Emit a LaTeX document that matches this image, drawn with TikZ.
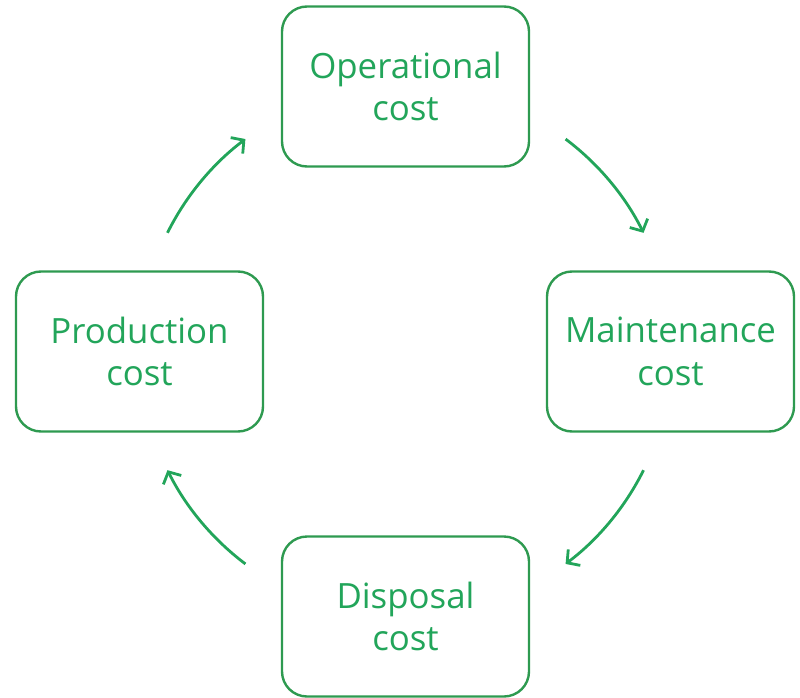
\documentclass[tikz,border=0pt]{standalone}
\usepackage{fontspec}
\setmainfont{Open Sans}
\usetikzlibrary{arrows.meta}
\definecolor{boxgreen}{HTML}{2E9A50}
\definecolor{txtgreen}{HTML}{22A55A}
\tikzset{
  costbox/.style={draw=boxgreen, line width=2.4pt, rounded corners=25pt,
    minimum width=247pt, minimum height=160pt, align=center,
    text=txtgreen, font=\fontsize{34.8}{42.5}\selectfont, fill=white},
  cyc/.style={draw=txtgreen, line width=2.8pt,
    -{Straight Barb[length=9pt,width=20pt,line width=2.8pt]}}
}
\begin{document}
\begin{tikzpicture}[x=1pt,y=1pt]
\useasboundingbox (0,0) rectangle (800,-698);
\coordinate (c) at (405.5,-351.5);
\node[costbox] (op) at (405.5,-86.5) {Operational\\cost};
\node[costbox] (pr) at (139.5,-351.5) {Production\\cost};
\node[costbox] (ma) at (670.5,-351.5) {Maintenance\\cost};
\node[costbox] (di) at (405.5,-616.5) {Disposal\\cost};
\draw[cyc] ([shift={(53:266)}]c) arc (53:26.5:266);
\draw[cyc] ([shift={(-26.5:266)}]c) arc (-26.5:-53:266);
\draw[cyc] ([shift={(-127:266)}]c) arc (-127:-153.5:266);
\draw[cyc] ([shift={(153.5:266)}]c) arc (153.5:127:266);
\end{tikzpicture}
\end{document}
